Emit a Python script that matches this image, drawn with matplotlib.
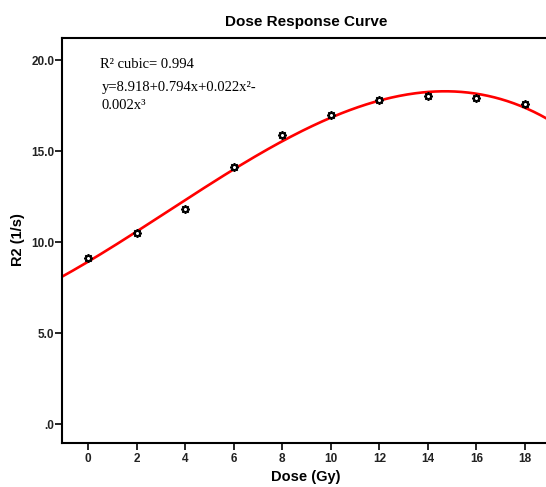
#!/usr/bin/env python3
"""
Dose response curve with cubic fit.
"""

import matplotlib
matplotlib.use("Agg")
import matplotlib.pyplot as plt
import numpy as np

dose = [0, 2, 4, 6, 8, 10, 12, 14, 16, 18]
r2 = [9.1, 10.5, 11.8, 14.1, 15.9, 17.0, 17.8, 18.0, 17.9, 17.6]
y_ticks = [0, 5, 10, 15, 20]
y_tick_labels = [".0", "5.0", "10.0", "15.0", "20.0"]
x_ticks = [0, 2, 4, 6, 8, 10, 12, 14, 16, 18]


def main():
    fig = plt.figure(figsize=(5.46, 4.87), dpi=100)
    W, H = 546, 487
    left, right, top, bottom = 62, 550, 38, 443
    ax = fig.add_axes([left / W, 1 - bottom / H, (right - left) / W, (bottom - top) / H])

    coef = np.polyfit(dose, r2, 3)
    xs = np.linspace(-1.1, 19.1, 300)
    ax.plot(xs, np.polyval(coef, xs), color="#ff0000", lw=1.9, zorder=2)
    ax.plot(dose, r2, linestyle="none", marker=(8, 1, 0), markersize=6,
            markerfacecolor="white", markeredgecolor="black", markeredgewidth=1.2, zorder=3)

    ax.set_xlim(-1.07, 19.03)
    ax.set_ylim(-1.04, 21.21)
    ax.set_xticks(x_ticks)
    ax.set_xticklabels([str(v) for v in x_ticks])
    ax.set_yticks(y_ticks)
    ax.set_yticklabels(y_tick_labels)
    for s in ax.spines.values():
        s.set_linewidth(1.5)
    ax.tick_params(direction="out", length=5, width=1.2, labelsize=8.5, pad=2.5)
    ax.tick_params(axis="y", pad=0.5)
    for lab in ax.get_xticklabels() + ax.get_yticklabels():
        lab.set_fontweight("bold")
        lab.set_family("Liberation Sans")
        lab.set_color("#222222")

    serif = dict(family="Liberation Serif", fontsize=10.5, va="center")
    ax.text(0.48, 19.75, "R² cubic= 0.994", **serif)
    ax.text(0.55, 18.5, "y=8.918+0.794x+0.022x²-", **serif)
    ax.text(0.55, 17.5, "0.002x³", **serif)

    fig.text(306 / W, 1 - 22 / H, "Dose Response Curve", ha="center", va="center",
             fontsize=11, fontweight="bold", family="Liberation Sans")
    fig.text(306 / W, 1 - 477 / H, "Dose (Gy)", ha="center", va="center",
             fontsize=10.5, fontweight="bold", family="Liberation Sans")
    fig.text(18 / W, 1 - 240 / H, "R2 (1/s)", ha="center", va="center", rotation=90,
             fontsize=10.5, fontweight="bold", family="Liberation Sans")

    fig.savefig("out.png", dpi=100)


if __name__ == '__main__':
    main()
